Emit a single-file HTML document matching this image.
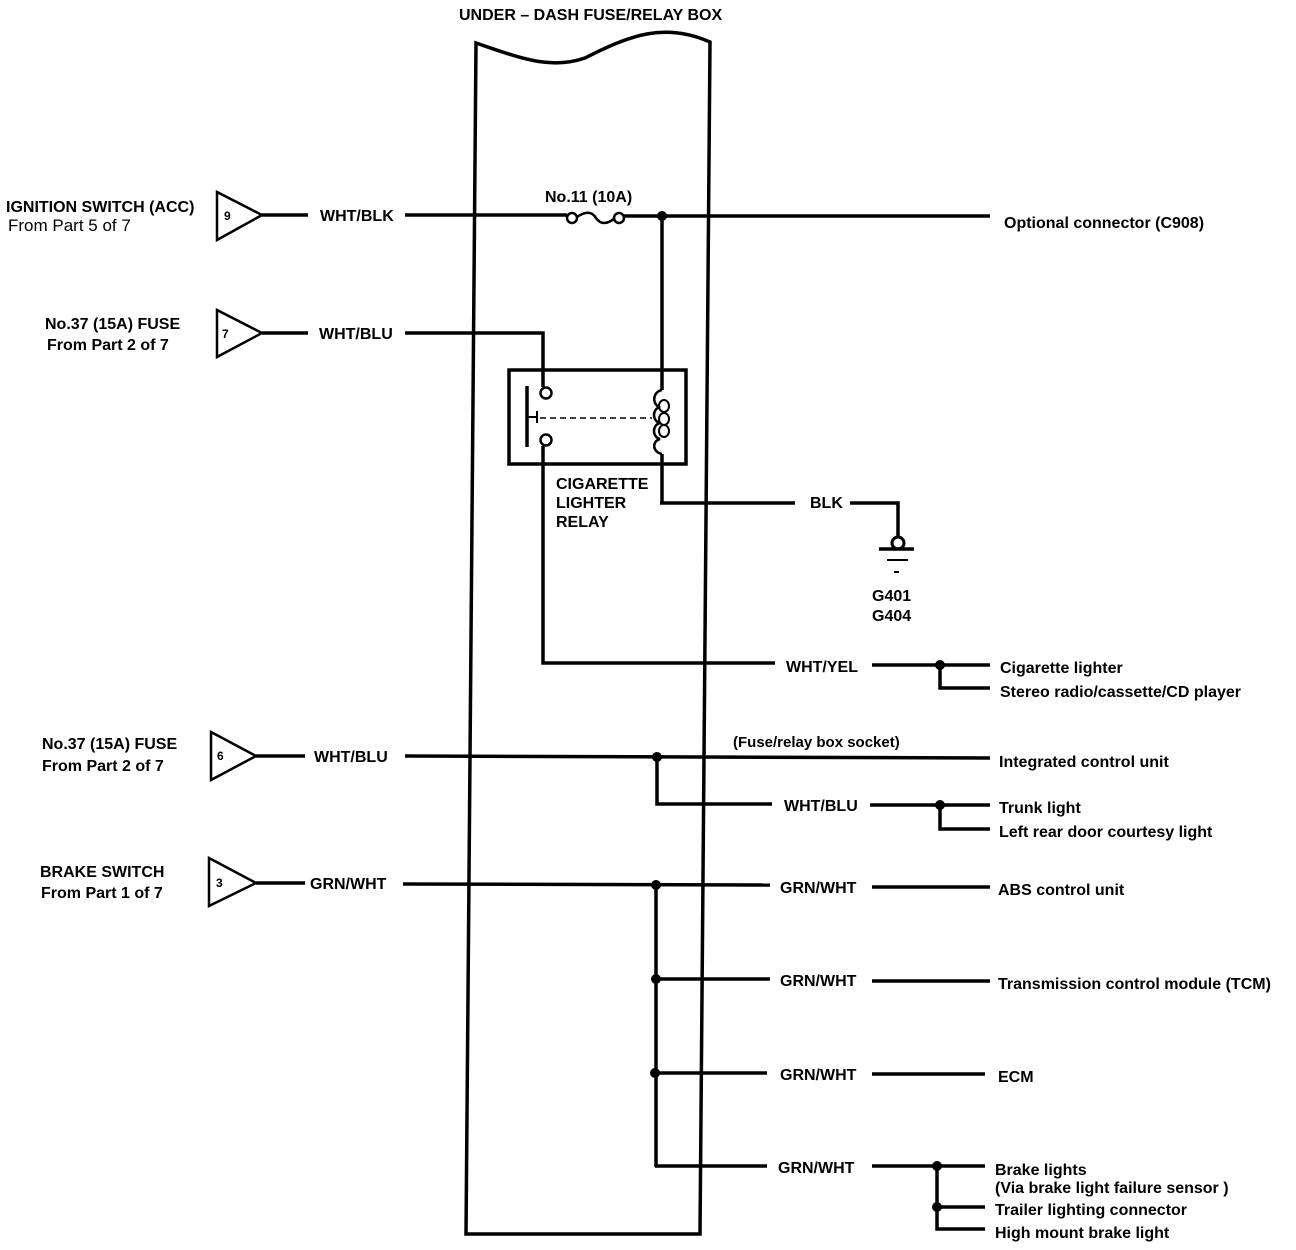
<!DOCTYPE html>
<html><head><meta charset="utf-8"><style>
html,body{margin:0;padding:0;background:#fff;}
svg{display:block;}
text{font-family:"Liberation Sans",sans-serif;font-size:16px;font-weight:bold;fill:#000;}
</style></head><body>
<svg width="1296" height="1250" viewBox="0 0 1296 1250" xmlns="http://www.w3.org/2000/svg">
<g fill="none" stroke="#000" stroke-width="3.5">
<path d="M466,1234 L476,43 C520,58 550,70 585,58 C630,35 665,22 710,42 L700,1234 Z"/>
<polygon points="217,192 262,215 217,240" stroke-width="2.5"/>
<line x1="262" y1="215" x2="308" y2="215"/>
<line x1="405" y1="215" x2="567" y2="215"/>
<circle cx="572" cy="218" r="5" stroke-width="2.5"/>
<path d="M577,217 Q590,208 596,218 Q603,228 615,218" stroke-width="2.5"/>
<circle cx="619" cy="218" r="5" stroke-width="2.5"/>
<line x1="624" y1="216" x2="990" y2="216"/>
<line x1="662" y1="216" x2="662" y2="390"/>
<path d="M662,390 C652,392 652,405 660,407 C652,409 652,421 660,423 C652,425 652,437 660,439 C652,441 652,452 662,454" stroke-width="2.5"/>
<ellipse cx="664" cy="406" rx="5" ry="6" stroke-width="2"/>
<ellipse cx="664" cy="419" rx="5" ry="6" stroke-width="2"/>
<ellipse cx="664" cy="431" rx="5" ry="6" stroke-width="2"/>
<line x1="662" y1="454" x2="662" y2="503"/>
<line x1="660" y1="503" x2="795" y2="503"/>
<path d="M850,503 L898,503 L898,538"/>
<circle cx="898" cy="543" r="6" stroke-width="3"/>
<line x1="879" y1="549" x2="914" y2="549"/>
<line x1="887" y1="560" x2="908" y2="560" stroke-width="2"/>
<line x1="894" y1="572" x2="899" y2="572" stroke-width="2"/>
<polygon points="217,310 262,333 217,357" stroke-width="2.5"/>
<line x1="262" y1="333" x2="308" y2="333"/>
<path d="M405,333 L543,333 L543,387"/>
<rect x="509" y="370" width="177" height="94"/>
<line x1="527" y1="386" x2="527" y2="447"/>
<circle cx="546" cy="393" r="5.5" stroke-width="2.5"/>
<circle cx="546" cy="440" r="5.5" stroke-width="2.5"/>
<line x1="527" y1="417" x2="537" y2="417" stroke-width="2"/>
<line x1="537" y1="411" x2="537" y2="423" stroke-width="2"/>
<line x1="540" y1="418" x2="652" y2="418" stroke-width="1.5" stroke-dasharray="6,4"/>
<path d="M543,446 L543,663 L775,663"/>
<line x1="872" y1="665" x2="990" y2="665"/>
<path d="M940,665 L940,688 L990,688"/>
<polygon points="211,732 256,756 211,780" stroke-width="2.5"/>
<line x1="256" y1="756" x2="305" y2="756"/>
<line x1="405" y1="756" x2="990" y2="758"/>
<path d="M657,757 L657,804 L772,804"/>
<line x1="870" y1="805" x2="990" y2="805"/>
<path d="M940,805 L940,829 L990,829"/>
<polygon points="209,858 256,883 209,906" stroke-width="2.5"/>
<line x1="256" y1="883" x2="305" y2="883"/>
<line x1="403" y1="884" x2="770" y2="885"/>
<line x1="872" y1="887" x2="990" y2="887"/>
<line x1="656" y1="884" x2="656" y2="1167"/>
<line x1="656" y1="979" x2="770" y2="979"/>
<line x1="872" y1="981" x2="990" y2="981"/>
<line x1="656" y1="1073" x2="767" y2="1073"/>
<line x1="872" y1="1074" x2="985" y2="1074"/>
<line x1="655" y1="1166" x2="767" y2="1166"/>
<line x1="872" y1="1166" x2="985" y2="1166"/>
<path d="M937,1166 L937,1229 L985,1229"/>
<line x1="937" y1="1207" x2="985" y2="1207"/>
</g>
<g fill="#000">
<circle cx="662" cy="216" r="5"/>
<circle cx="940" cy="665" r="5"/>
<circle cx="657" cy="757" r="5"/>
<circle cx="940" cy="805" r="5"/>
<circle cx="656" cy="885" r="5"/>
<circle cx="656" cy="979" r="5"/>
<circle cx="655" cy="1073" r="5"/>
<circle cx="937" cy="1166" r="5"/>
<circle cx="937" cy="1207" r="5"/>
</g>
<text x="459" y="20">UNDER – DASH FUSE/RELAY BOX</text>
<text x="545" y="202">No.11 (10A)</text>
<text x="6" y="212">IGNITION SWITCH (ACC)</text>
<text x="8" y="231" style="font-weight:normal;font-size:17px">From Part 5 of 7</text>
<text x="224" y="220" style="font-size:12px">9</text>
<text x="320" y="221">WHT/BLK</text>
<text x="1004" y="228">Optional  connector (C908)</text>
<text x="45" y="329">No.37 (15A) FUSE</text>
<text x="47" y="350">From Part 2 of 7</text>
<text x="222" y="338" style="font-size:12px">7</text>
<text x="319" y="339">WHT/BLU</text>
<text x="556" y="489">CIGARETTE</text>
<text x="556" y="508">LIGHTER</text>
<text x="556" y="527">RELAY</text>
<text x="810" y="508">BLK</text>
<text x="872" y="601">G401</text>
<text x="872" y="621">G404</text>
<text x="786" y="672">WHT/YEL</text>
<text x="1000" y="673">Cigarette lighter</text>
<text x="1000" y="697">Stereo radio/cassette/CD player</text>
<text x="42" y="749">No.37 (15A) FUSE</text>
<text x="42" y="771">From Part 2 of 7</text>
<text x="217" y="760" style="font-size:12px">6</text>
<text x="314" y="762">WHT/BLU</text>
<text x="733" y="747" style="font-size:15px">(Fuse/relay box socket)</text>
<text x="999" y="767">Integrated control unit</text>
<text x="784" y="811">WHT/BLU</text>
<text x="999" y="813">Trunk light</text>
<text x="999" y="837">Left rear door courtesy light</text>
<text x="40" y="877">BRAKE SWITCH</text>
<text x="41" y="898">From Part 1 of 7</text>
<text x="216" y="887" style="font-size:12px">3</text>
<text x="310" y="889">GRN/WHT</text>
<text x="780" y="893">GRN/WHT</text>
<text x="998" y="895">ABS control unit</text>
<text x="780" y="986">GRN/WHT</text>
<text x="998" y="989">Transmission control module (TCM)</text>
<text x="780" y="1080">GRN/WHT</text>
<text x="998" y="1082">ECM</text>
<text x="778" y="1173">GRN/WHT</text>
<text x="995" y="1175">Brake lights</text>
<text x="995" y="1193">(Via brake light failure sensor )</text>
<text x="995" y="1215">Trailer lighting connector</text>
<text x="995" y="1238">High mount brake light</text>
</svg>
</body></html>
